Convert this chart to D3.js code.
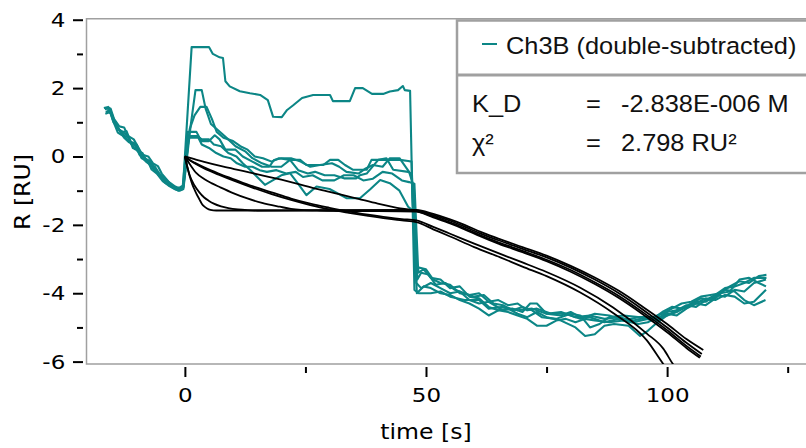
<!DOCTYPE html>
<html>
<head>
<meta charset="utf-8">
<script src="https://cdn.jsdelivr.net/npm/d3@7"></script>
<style>
	body { margin: 0; background: #fff; }
	svg { display: block; }
	.tick text { font-family: 'DejaVu Sans', sans-serif; font-size: 20px; fill: #000; }
	.axis-title { font-family: 'DejaVu Sans', sans-serif; font-size: 20.5px; fill: #000; }
	.legend text { font-family: 'Liberation Sans', Arial, sans-serif; font-size: 23.5px; fill: #111; }
</style>
</head>
<body>
<div id="chart"></div>
<script>
// measured sensorgrams, [time s, R RU]
const curveA = [[-16.8,1.42],[-15.9,1.45],[-15.3,1.3],[-14.5,1.0],[-13.8,0.8],[-12.8,0.72],[-12.1,0.74],[-11.3,0.45],[-10.2,0.3],[-9.4,0.05],[-8.4,-0.05],[-7.4,-0.12],[-6.6,-0.35],[-5.4,-0.55],[-4.4,-0.68],[-3.2,-0.8],[-2.2,-0.92],[-1.2,-0.98],[-0.4,-0.92],
	[1.4,3.2],[5,3.2],[5.8,3.0],[7.2,2.9],[7.9,2.88],[8.4,2.2],[9.3,2.05],[11.4,1.91],[13.5,1.85],[15.6,1.8],[17.2,1.65],[18.3,1.16],[20.1,1.15],[21.2,1.36],[22.4,1.49],[24.3,1.71],[26.6,1.8],[30.1,1.8],[30.7,1.62],[34.2,1.62],[35.3,2.0],[36.9,2.0],[38.8,1.83],[41.1,1.83],[42.5,1.9],[44.2,1.94],[45.2,2.06],[45.6,1.94],[46.7,1.92],
	[47.6,-3.9],[48.5,-4.0],[51,-4.0],[53,-3.95],[55,-4.1],[58,-4.2],[61,-4.2],[63,-4.45],[66,-4.4],[69,-4.5],[72,-4.45],[75,-4.6],[78,-4.55],[81,-4.7],[84,-4.65],[87,-4.75],[90,-4.7],[93,-4.8],[96,-4.7],[98,-4.75],[100,-4.55],[102,-4.5],[104,-4.35],[106,-4.4],[108,-4.2],[110,-4.05],[112,-4.1],[114,-3.9],[116,-3.95],[118,-3.7],[120.5,-3.6]];
const curveB = [[-16.6,1.38],[-15.7,1.42],[-15.0,1.15],[-14.2,0.9],[-13.2,0.68],[-12.4,0.6],[-11.6,0.55],[-10.8,0.25],[-9.8,0.2],[-9.0,-0.05],[-7.8,-0.1],[-6.9,-0.38],[-5.8,-0.5],[-4.6,-0.72],[-3.4,-0.85],[-2.2,-0.95],[-1.0,-1.0],[-0.3,-0.95],
	[1.2,0.9],[2.2,1.94],[3.5,1.94],[4.3,1.4],[5.4,0.95],[7,0.75],[9,0.5],[10.5,0.3],[12.5,0.15],[14,-0.05],[16,-0.2],[18,-0.3],[20,-0.3],[21.8,-0.1],[23.9,-0.1],[25.2,-0.25],[28.7,-0.25],[30.1,-0.1],[31.8,-0.1],[33.2,-0.25],[34.9,-0.39],[37.7,-0.39],[38.7,-0.1],[44.6,-0.1],[46.3,-0.13],[47,-0.15],
	[47.8,-3.5],[48.5,-3.25],[50,-3.3],[51.5,-3.6],[53,-3.7],[55,-3.75],[57,-4.0],[59,-4.05],[61,-4.0],[63,-4.25],[65,-4.2],[67,-4.35],[69,-4.3],[71,-4.5],[73,-4.45],[76,-4.6],[79,-4.6],[82,-4.75],[85,-4.6],[88,-4.65],[91,-4.8],[94,-4.7],[97,-4.75],[99,-4.55],[101,-4.4],[103,-4.45],[105,-4.3],[107,-4.15],[109,-4.2],[111,-4.0],[113,-3.8],[115,-3.65],[117,-3.7],[119,-3.5],[120.6,-3.46]];
const curveC = [[-16.4,1.3],[-15.6,1.35],[-14.9,1.05],[-13.9,0.7],[-13.0,0.62],[-12.0,0.5],[-11.0,0.35],[-10.0,0.35],[-9.2,0.1],[-8.0,-0.15],[-7.0,-0.25],[-6.0,-0.42],[-5.0,-0.6],[-4.0,-0.78],[-3.0,-0.85],[-2.0,-0.93],[-1.0,-0.9],[-0.3,-0.85],
	[1.0,0.8],[2,1.2],[3.2,1.45],[4.5,1.45],[5.6,1.1],[6.6,0.72],[8,0.55],[10,0.45],[11.5,0.3],[13,0.2],[14.5,0],[16.2,-0.05],[18,-0.15],[19.5,-0.05],[21.8,-0.1],[23.5,-0.4],[25.5,-0.5],[27,-0.45],[29,-0.55],[31,-0.55],[33,-0.64],[35.5,-0.64],[36.3,-0.55],[37.7,-0.5],[40.1,-0.1],[41.8,-0.05],[43.2,-0.39],[46.3,-0.45],[47,-0.5],
	[48,-3.7],[49,-3.85],[51,-3.7],[53,-3.85],[55,-4.0],[57,-3.95],[59,-4.2],[61,-4.3],[63,-4.25],[66,-4.5],[68,-4.45],[70,-4.55],[71.6,-4.3],[73,-4.3],[75,-4.6],[78,-4.65],[80,-4.55],[82,-4.7],[84,-4.7],[87,-4.85],[90,-4.75],[93,-4.85],[96,-4.75],[98,-4.8],[100,-4.6],[102,-4.65],[104,-4.45],[106,-4.3],[108,-4.35],[110,-4.15],[112,-3.9],[114,-3.95],[116,-4.2],[118,-4.35],[120.4,-4.2]];
const curveD = [[-16.2,1.4],[-15.4,1.4],[-14.7,1.1],[-13.6,0.88],[-12.6,0.85],[-11.8,0.6],[-10.6,0.5],[-9.6,0.25],[-8.8,0.05],[-7.6,0.0],[-6.6,-0.2],[-5.6,-0.28],[-4.8,-0.5],[-3.6,-0.7],[-2.6,-0.88],[-1.4,-1.0],[-0.5,-0.95],
	[0.6,0.72],[2.4,0.72],[3.4,0.45],[5,0.45],[6.2,0.62],[7.2,0.5],[8.4,0.2],[10.5,0.2],[12,0.0],[14,-0.15],[16,-0.3],[17.5,-0.3],[18.5,-0.1],[20,-0.05],[22,-0.05],[24,-0.15],[26,-0.3],[28,-0.25],[30.5,-0.2],[32,-0.3],[33.5,-0.45],[36,-0.5],[37.5,-0.35],[39,-0.25],[41,-0.3],[42.5,-0.05],[44.5,-0.05],[46.5,-0.45],[47.5,-0.9],
	[48.2,-3.6],[49,-3.4],[50.5,-3.45],[52,-3.75],[54,-3.7],[56,-3.9],[58,-4.0],[60,-4.1],[62,-4.05],[64,-4.3],[66,-4.35],[68,-4.5],[70,-4.4],[72,-4.5],[74,-4.7],[77,-4.75],[80,-4.6],[82,-4.65],[84,-5.0],[86,-4.9],[88,-4.7],[91,-4.65],[94,-4.7],[97,-4.7],[99,-4.6],[101,-4.45],[103,-4.3],[105,-4.25],[107,-4.1],[109,-4.05],[111,-4.0],[113,-3.95],[115,-3.6],[117,-3.55],[119,-3.7],[120.5,-3.8]];
const curveE = [[-16.0,1.32],[-15.2,1.25],[-14.4,0.95],[-13.4,0.75],[-12.2,0.65],[-11.2,0.4],[-10.4,0.22],[-9.4,0.15],[-8.6,-0.08],[-7.2,-0.25],[-6.2,-0.3],[-5.2,-0.52],[-4.2,-0.66],[-3.0,-0.78],[-2.0,-0.88],[-1.0,-0.95],[-0.3,-0.9],
	[0.8,0.55],[2.8,0.55],[3.5,0.35],[5,0.25],[6.5,0.1],[8,0],[9.5,-0.05],[10.8,-0.2],[12.5,-0.3],[14,-0.3],[15.5,-0.4],[17,-0.45],[19,-0.4],[21,-0.5],[23,-0.45],[24.5,-0.6],[26.5,-0.55],[28.5,-0.7],[31,-0.7],[33,-0.55],[35,-0.55],[37,-0.7],[39,-0.65],[41,-0.45],[43,-0.5],[45,-0.7],[46.5,-0.75],[47.6,-0.8],
	[48.4,-3.4],[49.5,-3.3],[51,-3.55],[53,-3.6],[55,-3.85],[57,-3.8],[59,-4.1],[61,-4.15],[63,-4.4],[65,-4.5],[67,-4.45],[69,-4.6],[71,-4.7],[73,-4.55],[75,-4.7],[78,-4.8],[81,-5.0],[83,-5.25],[85,-5.2],[87,-4.95],[89,-4.9],[92,-4.95],[94.4,-5.25],[96,-5.1],[98,-4.85],[100,-4.65],[102,-4.55],[104,-4.4],[106,-4.25],[108,-4.25],[110,-4.05],[112,-3.85],[114,-3.8],[116,-3.7],[118,-3.55],[120.6,-3.55]];
const curveF = [[-16.5,1.25],[-15.5,1.3],[-14.8,1.0],[-13.8,0.82],[-12.6,0.55],[-11.6,0.42],[-10.6,0.4],[-9.8,0.15],[-8.8,0.1],[-8.0,-0.1],[-6.8,-0.2],[-5.8,-0.45],[-4.6,-0.6],[-3.6,-0.75],[-2.6,-0.9],[-1.6,-0.98],[-0.4,-0.95],
	[0.7,0.6],[2.5,0.6],[3.5,0.5],[5,0.5],[6,0.35],[7.5,0.3],[9,0.1],[10.7,0],[12,-0.2],[13.5,-0.39],[15,-0.6],[16.6,-0.83],[18.3,-0.69],[20,-0.55],[21.8,-0.49],[23.5,-0.8],[25.2,-1.13],[27.3,-0.88],[30,-0.95],[33.5,-1.22],[36.3,-1.22],[38.5,-0.95],[40.5,-0.69],[42.5,-0.78],[44.5,-1.0],[46.3,-1.47],[47.4,-1.6],
	[48.1,-4.0],[49.5,-3.8],[51,-3.85],[53,-4.0],[55,-4.05],[57,-4.2],[59,-4.3],[61,-4.45],[63,-4.65],[65,-4.5],[67,-4.55],[69,-4.65],[71,-4.75],[73,-4.95],[75,-4.95],[77,-4.8],[79,-4.75],[81,-4.85],[83,-4.75],[85,-4.8],[88,-4.85],[91,-4.8],[94,-4.9],[96,-4.85],[98,-4.7],[100,-4.65],[102,-4.5],[104,-4.4],[106,-4.3],[108,-4.15],[110,-4.2],[112,-4.05],[114,-4.1],[116,-4.3],[118,-4.25],[120.5,-3.9]];

// fitted curves, [time s, R RU]
const fit1 = [[0,0],[0.5,-0.3],[1,-0.58],[1.5,-0.8],[2,-0.97],[2.5,-1.12],[3,-1.25],[3.5,-1.38],[4,-1.46],[4.6,-1.52],[5.3,-1.56],[6.5,-1.58],[20,-1.58],[35,-1.58],[48,-1.58],
	[51.5,-1.72],[55,-1.88],[58,-2.05],[61.2,-2.25],[65,-2.45],[70,-2.7],[75,-2.95],[80,-3.25],[85,-3.6],[90,-4.0],[95,-4.48],[100,-5.0],[104,-5.45],[107.2,-5.78]];
const fit2 = [[0,0],[0.5,-0.3],[1,-0.55],[2,-0.85],[3,-1.05],[4,-1.2],[5,-1.3],[6,-1.38],[7.5,-1.46],[9,-1.51],[11,-1.55],[13,-1.57],[15,-1.58],[30,-1.57],[48,-1.56],
	[51.5,-1.68],[55,-1.84],[58,-2.0],[61.2,-2.2],[65,-2.4],[70,-2.65],[75,-2.9],[80,-3.2],[85,-3.54],[90,-3.93],[95,-4.4],[100,-4.9],[104,-5.34],[107.5,-5.66]];
const fit3 = [[0,0],[1,-0.22],[2.4,-0.49],[4,-0.66],[5.5,-0.78],[7.3,-0.9],[10,-1.07],[12.8,-1.22],[16,-1.36],[19.7,-1.47],[22,-1.53],[24.1,-1.56],[28,-1.58],[40,-1.6],[48,-1.61],
	[51.5,-1.76],[55,-1.93],[58,-2.1],[61.2,-2.3],[65,-2.51],[70,-2.76],[75,-3.02],[80,-3.32],[85,-3.68],[90,-4.08],[95,-4.56],[100,-5.08],[104,-5.54],[107,-5.85]];
const fit4 = [[0,0],[1,-0.1],[2,-0.18],[4,-0.32],[7,-0.5],[10,-0.66],[14,-0.87],[18,-1.05],[22,-1.23],[26,-1.38],[30,-1.5],[34,-1.61],[38,-1.7],[42,-1.78],[45,-1.83],[48,-1.87],
	[51.5,-2.06],[55,-2.26],[60,-2.55],[65.4,-2.85],[70,-3.1],[75,-3.38],[82,-3.84],[88.8,-4.42],[95.8,-5.18],[99.2,-5.62],[101.2,-6.07],[103,-6.4]];
const fit5 = [[0,0],[2,-0.08],[4,-0.16],[8,-0.3],[12,-0.42],[16,-0.55],[20,-0.68],[24,-0.82],[28,-0.97],[32,-1.1],[36,-1.24],[40,-1.38],[44,-1.5],[48,-1.6],
	[51.5,-1.78],[55,-1.96],[58,-2.13],[61.2,-2.33],[65,-2.55],[70,-2.8],[75,-3.06],[80,-3.37],[85,-3.73],[90,-4.14],[95,-4.62],[100,-5.14],[104,-5.6],[106.8,-5.89]];
const fit6 = [[0,0],[1,-0.11],[2,-0.2],[4,-0.35],[7,-0.53],[10,-0.7],[14,-0.91],[18,-1.1],[22,-1.27],[26,-1.42],[30,-1.55],[34,-1.65],[38,-1.74],[42,-1.82],[45,-1.87],[48,-1.92],
	[51.5,-2.13],[55,-2.34],[60,-2.65],[65.4,-2.95],[70,-3.22],[75,-3.5],[82,-3.98],[88.8,-4.58],[95.8,-5.38],[99.2,-6.07],[101,-6.4]];

const sensorgrams = [curveA, curveB, curveC, curveD, curveE, curveF];
const fits = [fit1, fit2, fit3, fit4, fit5, fit6];

// ticks
const yMajor = [-6, -4, -2, 0, 2, 4];
const yMinor = [-5, -3, -1, 1, 3];
const xMajor = [0, 50, 100];
const xMinor = [25, 75, 125];

// legend + fit results
const legendLabel = 'Ch3B (double-subtracted)';
const resultNames = ['K_D', 'χ²'];
const resultValues = ['-2.838E-006 M', '2.798 RU²'];

const width = 806;
const height = 448;
const teal = '#0c8686';
const frameColour = '#a0a0a0';
const stretch = 1.15; // the original text is drawn a bit wide
const plot = { left: 86.5, top: 18.7, right: 806, bottom: 364 };

const x = d3.scaleLinear()
	.domain([-20.4, 128.8])
	.range([plot.left, plot.right]);

const y = d3.scaleLinear()
	.domain([-6.07, 4.03])
	.range([plot.bottom, plot.top]);

const svg = d3.select('#chart')
	.append('svg')
	.attr('width', width)
	.attr('height', height);

svg.append('defs')
	.append('clipPath')
	.attr('id', 'plot-clip')
	.append('rect')
		.attr('x', plot.left)
		.attr('y', plot.top)
		.attr('width', plot.right - plot.left)
		.attr('height', plot.bottom - plot.top);

// frame (left, top, bottom)
svg.append('path')
	.attr('d', `M${plot.right + 5},${plot.top}H${plot.left}V${plot.bottom}H${plot.right + 5}`)
	.attr('fill', 'none')
	.attr('stroke', frameColour)
	.attr('stroke-width', 1.5);

const styleTicks = g => {
	g.select('.domain').remove();
	g.selectAll('.tick line').attr('stroke', '#000').attr('stroke-width', 2);
	g.selectAll('.tick text').attr('transform', `scale(${stretch},1)`);
};

// y axis, major + minor ticks
const yAxis = g => {
	g.attr('transform', `translate(${plot.left - 3.5},0)`)
		.call(d3.axisLeft(y)
			.tickValues(yMajor)
			.tickSize(10)
			.tickPadding(5.4)
			.tickFormat(d => d)
		)
		.call(styleTicks);
};

const yAxisMinor = g => {
	g.attr('transform', `translate(${plot.left - 3.5},0)`)
		.call(d3.axisLeft(y)
			.tickValues(yMinor)
			.tickSize(6)
			.tickFormat('')
		)
		.call(styleTicks);
};

const xAxis = g => {
	g.attr('transform', `translate(0,${plot.bottom + 3})`)
		.call(d3.axisBottom(x)
			.tickValues(xMajor)
			.tickSize(10)
			.tickPadding(11)
			.tickFormat(d => d)
		)
		.call(styleTicks);
};

const xAxisMinor = g => {
	g.attr('transform', `translate(0,${plot.bottom + 3})`)
		.call(d3.axisBottom(x)
			.tickValues(xMinor)
			.tickSize(6)
			.tickFormat('')
		)
		.call(styleTicks);
};

svg.append('g').call(yAxis);
svg.append('g').call(yAxisMinor);
svg.append('g').call(xAxis);
svg.append('g').call(xAxisMinor);

// axis titles
svg.append('text')
	.attr('class', 'axis-title')
	.attr('text-anchor', 'middle')
	.attr('transform', `translate(29.5,192) rotate(-90) scale(${stretch},1)`)
	.text('R [RU]');

svg.append('text')
	.attr('class', 'axis-title')
	.attr('text-anchor', 'middle')
	.attr('transform', `translate(${x(50)},439) scale(${stretch},1)`)
	.text('time [s]');

// data
const line = d3.line()
	.x(d => x(d[0]))
	.y(d => y(d[1]));

const fitLine = d3.line()
	.curve(d3.curveMonotoneX)
	.x(d => x(d[0]))
	.y(d => y(d[1]));

const marks = svg.append('g')
	.attr('clip-path', 'url(#plot-clip)');

marks.selectAll('.sensorgram')
	.data(sensorgrams)
	.join('path')
		.attr('class', 'sensorgram')
		.attr('fill', 'none')
		.attr('stroke', teal)
		.attr('stroke-width', 2.1)
		.attr('stroke-linejoin', 'round')
		.attr('d', line);

marks.selectAll('.fit')
	.data(fits)
	.join('path')
		.attr('class', 'fit')
		.attr('fill', 'none')
		.attr('stroke', '#000')
		.attr('stroke-width', 1.8)
		.attr('d', fitLine);

// legend box
const legend = svg.append('g').attr('class', 'legend');

legend.append('rect')
	.attr('x', 457)
	.attr('y', 20.5)
	.attr('width', 380)
	.attr('height', 152.5)
	.attr('fill', '#fff')
	.attr('stroke', frameColour)
	.attr('stroke-width', 2.5);

legend.append('line')
	.attr('x1', 457)
	.attr('x2', 806)
	.attr('y1', 75)
	.attr('y2', 75)
	.attr('stroke', frameColour)
	.attr('stroke-width', 3);

legend.append('line')
	.attr('x1', 482)
	.attr('x2', 497)
	.attr('y1', 44)
	.attr('y2', 44)
	.attr('stroke', teal)
	.attr('stroke-width', 2);

const legendText = (xPos, yPos, text) => {
	legend.append('text')
		.attr('transform', `translate(${xPos},${yPos}) scale(1.08,1)`)
		.text(text);
};

legendText(506, 54, legendLabel);

resultNames.forEach((name, i) => {
	const yPos = 112 + i * 38.5;
	legendText(472, yPos, name);
	legendText(586, yPos, '=');
	legendText(621, yPos, resultValues[i]);
});
</script>
</body>
</html>
